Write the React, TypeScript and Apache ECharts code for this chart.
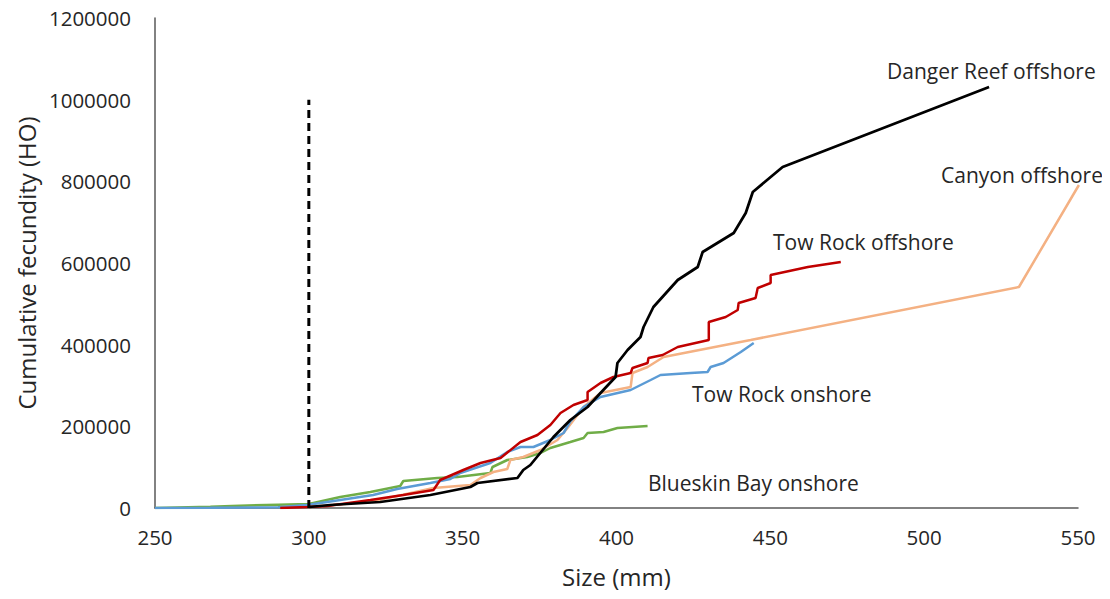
import React, { useEffect, useRef } from "react";
import * as echarts from "echarts";

const xTicks = { min: 250, max: 550, interval: 50 };
const yTicks = { min: 0, max: 1200000, interval: 200000 };

const dangerReef: [number, number][] = [
  [300.1, 2449], [306.9, 7347], [323.2, 14694], [339.5, 31837], [352.5, 51429],
  [354.8, 61224], [367.8, 73469], [369.7, 93061], [372.0, 105306], [379.5, 173878],
  [385.0, 215510], [390.6, 247347], [394.8, 281633], [399.7, 320816], [400.3, 355102],
  [403.6, 386939], [407.8, 418776], [408.8, 443265], [412.0, 492245], [419.9, 558367],
  [426.4, 590204], [428.0, 626939], [438.1, 673469], [442.0, 722449], [444.3, 773878],
  [454.0, 835102], [521.1, 1031020],
];

const towRockOffshore: [number, number][] = [
  [290.7, 0], [299.5, 2449], [306.0, 4898], [320.0, 19592], [330.7, 31837],
  [340.5, 44082], [342.7, 68571], [350.2, 93061], [355.8, 110204], [362.3, 122449],
  [368.8, 161633], [374.3, 178776], [378.5, 203265], [381.8, 232653], [386.0, 252245],
  [390.6, 264490], [390.6, 284082], [394.8, 306122], [399.0, 320816], [404.6, 330612],
  [405.2, 342857], [410.1, 355102], [410.4, 367347], [415.0, 374694], [419.9, 394286],
  [430.0, 411429], [430.0, 455510], [435.5, 467755], [439.4, 484898], [439.7, 502041],
  [445.2, 514286], [445.9, 538776], [450.1, 551020], [450.1, 570612], [462.2, 590204],
  [472.9, 602449],
];

const towRockOnshore: [number, number][] = [
  [250, 0], [268, 500], [290, 2000], [299.5, 7347], [310.2, 19592], [320.9, 31837],
  [328.7, 46531], [339.5, 61224], [346.0, 71020], [349.2, 85714], [359.0, 110204],
  [364.5, 137143], [368.8, 149388], [373.0, 149388], [378.5, 166531], [382.8, 183673],
  [385.0, 212000], [389.3, 247347], [394.8, 271837], [404.6, 288980], [411.1, 313469],
  [414.3, 325714], [424.1, 330612], [429.6, 333061], [430.6, 345306], [434.8, 355102],
  [440.4, 382041], [444.6, 404082],
];

const canyonOffshore: [number, number][] = [
  [300, 2449], [320, 15000], [340.5, 48980], [352.5, 56327], [355.8, 73469],
  [360.0, 88163], [364.5, 95510], [365.5, 117551], [369.7, 124898], [375.3, 142041],
  [380.8, 166531], [384.1, 195918], [389.3, 247347], [394.8, 281633], [404.6, 296327],
  [405.2, 330612], [410.1, 345306], [415.3, 369796], [443.6, 411429], [530.8, 541224],
  [550.3, 791020],
];

const blueskinBay: [number, number][] = [
  [250, 0], [268, 3000], [275, 5000], [290, 8000], [300, 10000], [310.2, 26939],
  [320.0, 39184], [329.7, 53878], [330.7, 66122], [341.8, 73469], [348.3, 75918],
  [359.0, 85714], [359.7, 100408], [364.5, 117551], [371.0, 124898], [375.3, 134694],
  [378.5, 146939], [385.0, 161633], [389.3, 171429], [390.6, 183673], [395.8, 186122],
  [400.3, 195918], [410.1, 200816],
];

const cutoff: [number, number][] = [
  [300, 0], [300, 1000000],
];

const FONT = "Open Sans";

export default function App() {
  const ref = useRef<HTMLDivElement>(null);
  useEffect(() => {
    if (!ref.current) return;
    const chart = echarts.init(ref.current, undefined, { renderer: "svg" });
    const line = (name: string, data: [number, number][], color: string, width: number) => ({
      name,
      type: "line",
      data,
      showSymbol: false,
      symbol: "none",
      lineStyle: { color, width },
      itemStyle: { color },
      z: 2,
    });
    const labelText = (text: string, x: number, y: number) => ({
      type: "text",
      left: x,
      top: y,
      style: { text, fill: "#262626", font: `21px "${FONT}"` },
    });
    chart.setOption({
      animation: false,
      backgroundColor: "#ffffff",
      grid: {
        left: 155, right: 32, top: 18, bottom: 91,
        containLabel: false, outerBoundsMode: "none",
      },
      xAxis: {
        type: "value",
        min: xTicks.min,
        max: xTicks.max,
        interval: xTicks.interval,
        name: "Size (mm)",
        nameLocation: "middle",
        nameGap: 56,
        nameTextStyle: { color: "#262626", fontSize: 24, fontFamily: FONT },
        axisLine: { show: true, lineStyle: { color: "#595959", width: 1.5 } },
        axisTick: { show: false },
        splitLine: { show: false },
        axisLabel: { color: "#262626", fontSize: 20.5, fontFamily: FONT, margin: 18 },
      },
      yAxis: {
        type: "value",
        min: yTicks.min,
        max: yTicks.max,
        interval: yTicks.interval,
        name: "Cumulative fecundity (HO)",
        nameLocation: "middle",
        nameGap: 115,
        nameTextStyle: { color: "#262626", fontSize: 24, fontFamily: FONT },
        axisLine: { show: true, lineStyle: { color: "#595959", width: 1.5 } },
        axisTick: { show: false },
        splitLine: { show: false },
        axisLabel: {
          color: "#262626", fontSize: 20.5, fontFamily: FONT, margin: 24,
          formatter: (v: number) => String(v),
        },
      },
      series: [
        line("Blueskin Bay onshore", blueskinBay, "#70AD47", 2.5),
        line("Canyon offshore", canyonOffshore, "#F4B183", 2.5),
        line("Tow Rock onshore", towRockOnshore, "#5B9BD5", 2.5),
        line("Tow Rock offshore", towRockOffshore, "#C00000", 2.5),
        line("Danger Reef offshore", dangerReef, "#000000", 2.75),
        {
          name: "cutoff",
          type: "line",
          data: cutoff,
          showSymbol: false,
          symbol: "none",
          lineStyle: { color: "#000000", width: 3, type: [8, 5] },
          z: 3,
        },
      ],
      graphic: [
        labelText("Danger Reef offshore", 887, 60),
        labelText("Canyon offshore", 941, 164),
        labelText("Tow Rock offshore", 773, 231),
        labelText("Tow Rock onshore", 692, 383),
        labelText("Blueskin Bay onshore", 648, 472),
      ],
    });
    return () => chart.dispose();
  }, []);
  return <div ref={ref} style={{ width: 1110, height: 599, margin: -8 }} />;
}
